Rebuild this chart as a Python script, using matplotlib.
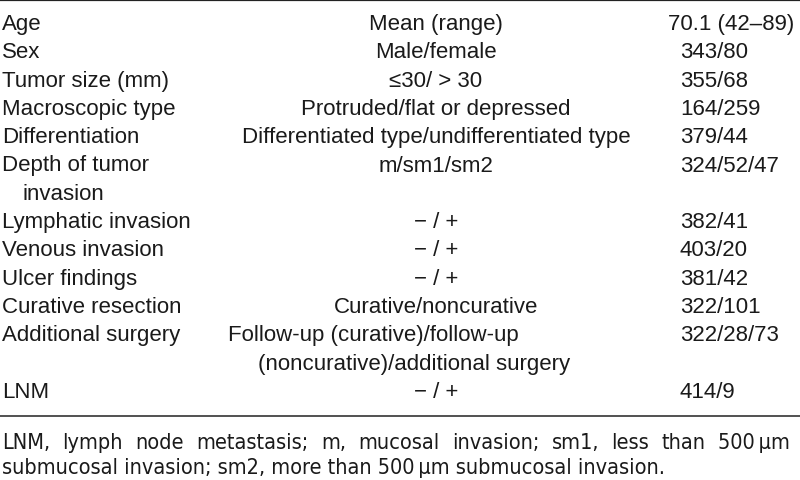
import matplotlib
matplotlib.use("Agg")
import matplotlib.pyplot as plt
from matplotlib import font_manager


# Table contents

row_labels = [
    "Age", "Sex", "Tumor size (mm)", "Macroscopic type", "Differentiation",
    "Depth of tumor\ninvasion", "Lymphatic invasion", "Venous invasion",
    "Ulcer findings", "Curative resection", "Additional surgery", "LNM",
]
row_categories = [
    "Mean (range)", "Male/female", "\u226430/ > 30", "Protruded/flat or depressed",
    "Differentiated type/undifferentiated type", "m/sm1/sm2",
    "\u2212 / +", "\u2212 / +", "\u2212 / +", "Curative/noncurative",
    "Follow-up (curative)/follow-up\n(noncurative)/additional surgery",
    "\u2212 / +",
]
row_values = [
    "70.1 (42\u201389)", "343/80", "355/68", "164/259", "379/44", "324/52/47",
    "382/41", "403/20", "381/42", "322/101", "322/28/73", "414/9",
]
footnote_lines = [
    "LNM, lymph node metastasis; m, mucosal invasion; sm1, less than 500\u2009\u00b5m",
    "submucosal invasion; sm2, more than 500\u2009\u00b5m submucosal invasion.",
]


W, H = 800, 481
fig = plt.figure(figsize=(W / 100, H / 100), dpi=100)
fig.patch.set_facecolor("white")

# look for a condensed face for the footnote
narrow_file = None
for f in font_manager.fontManager.ttflist:
    n = f.fname.lower()
    if ("narrow" in n or "condensed" in n) and "bold" not in n and "oblique" not in n \
            and "italic" not in n and ("liberation" in n or "dejavusans" in n):
        if narrow_file is None or "liberation" in n:
            narrow_file = f.fname

MAIN_SIZE = 16
ROW_H = 28.3
FIRST_BASE = 30
main_prop = font_manager.FontProperties(family=["Liberation Sans", "DejaVu Sans"], size=MAIN_SIZE)
if narrow_file:
    note_prop = font_manager.FontProperties(fname=narrow_file, size=15.6)
else:
    note_prop = font_manager.FontProperties(family=["Liberation Sans"], size=14)


def px(x, y):
    return x / W, 1 - y / H


def put(x, y, s, ha="left", prop=main_prop):
    fx, fy = px(x, y)
    return fig.text(fx, fy, s, ha=ha, va="baseline", fontproperties=prop,
                    color="#1a1a1a")


# rules
fig.add_artist(plt.Line2D([0, 1], [1 - 1.2 / H] * 2, color="#222222", lw=1.6))
fig.add_artist(plt.Line2D([0, 1], [1 - 417 / H] * 2, color="#222222", lw=1.1))

line_no = 0
for label, cat, val in zip(row_labels, row_categories, row_values):
    base = FIRST_BASE + ROW_H * line_no
    lab_lines = label.split("\n")
    cat_lines = cat.split("\n")
    for k, s in enumerate(lab_lines):
        put(2 if k == 0 else 23, base + ROW_H * k, s)
    if len(cat_lines) == 1:
        put(436, base, cat, ha="center")
    else:
        # wrapped cell: first line, then a slightly indented continuation
        for k, s in enumerate(cat_lines):
            put(228 if k == 0 else 258, base + ROW_H * k, s)
    put(668 if val.startswith("70.1") else 680, base, val)
    line_no += max(len(lab_lines), len(cat_lines))

# footnote, first line justified to full width
fig.canvas.draw()
renderer = fig.canvas.get_renderer()
words = footnote_lines[0].split(" ")
arts = [put(0, 449, w, prop=note_prop) for w in words]
widths = [a.get_window_extent(renderer).width for a in arts]
left, right = 2, 790
gap = (right - left - sum(widths)) / (len(words) - 1)
x = left
for a, w in zip(arts, widths):
    a.set_position(px(x, 449))
    x += w + gap
put(2, 474, footnote_lines[1], prop=note_prop)

fig.savefig("out.png", dpi=100, facecolor="white")
